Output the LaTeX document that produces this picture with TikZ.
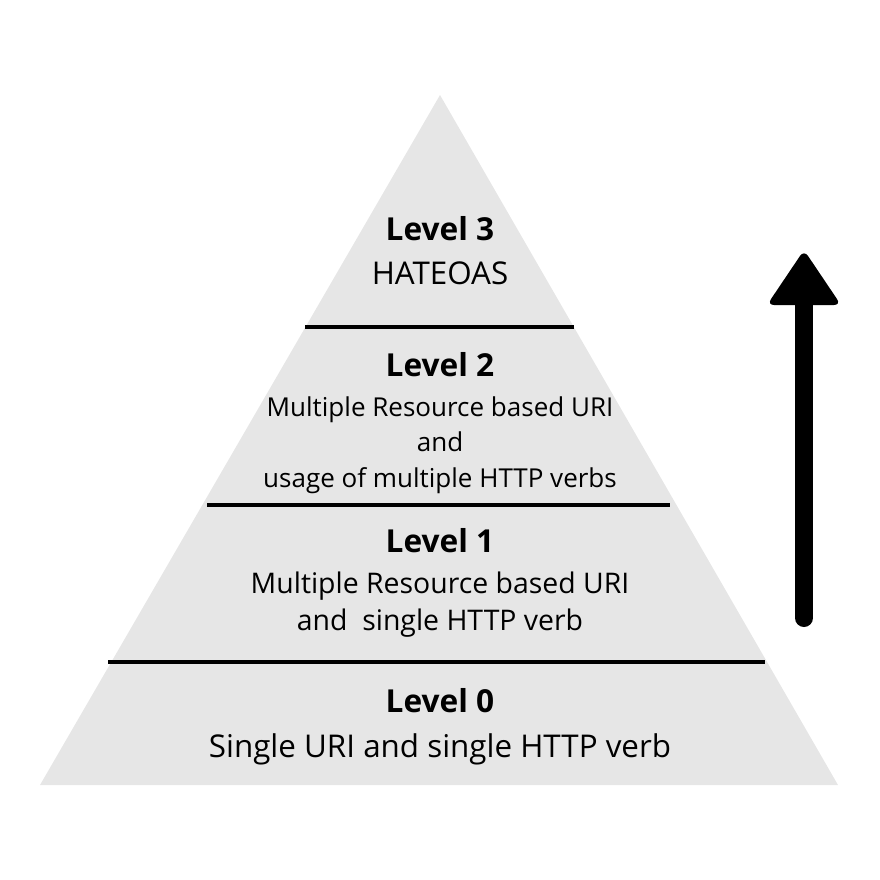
\documentclass[tikz,border=0pt]{standalone}
\usepackage{fontspec}
\setmainfont{Open Sans}
\usetikzlibrary{positioning}
\definecolor{pyrgray}{HTML}{E6E6E6}

\begin{document}
\begin{tikzpicture}[
		x=0.025cm, y=-0.025cm,
		layer/.style={line width=2.8pt, black},
		lvlhead/.style={font=\fontsize{22.5}{26}\selectfont\bfseries, anchor=base, inner sep=0pt},
		lvlbody/.style={font=\fontsize{#1}{#1}\selectfont, anchor=base, inner sep=0pt},
		lvlbody/.default=22.3
		]
		
		\useasboundingbox (0,0) rectangle (880,880);
		
		% ==========================================
		% The pyramid and its layers
		% ==========================================
		\fill[pyrgray] (440,95) -- (838,785) -- (40,785) -- cycle;
		\draw[layer] (305,327) -- (574,327);
		\draw[layer] (207,505) -- (670,505);
		\draw[layer] (108,662) -- (765,662);
		
		% ==========================================
		% Level 3
		% ==========================================
		\node[lvlhead] (head3) at (440,240) {Level 3};
		\node[lvlbody] (body3) at (440,284) {HATEOAS};
		
		% ==========================================
		% Level 2
		% ==========================================
		\node[lvlhead] (head2) at (440,376) {Level 2};
		\node[lvlbody=18.5] (body2a) at (440,416) {Multiple Resource based URI};
		\node[lvlbody=18.5] (body2b) at (440,451) {and};
		\node[lvlbody=18.5] (body2c) at (440,487) {usage of multiple HTTP verbs};
		
		% ==========================================
		% Level 1
		% ==========================================
		\node[lvlhead] (head1) at (440,552) {Level 1};
		\node[lvlbody=20.2] (body1a) at (440,593) {Multiple Resource based URI};
		\node[lvlbody=20.2] (body1b) at (440,630) {and \ single HTTP verb};
		
		% ==========================================
		% Level 0
		% ==========================================
		\node[lvlhead] (head0) at (440,712) {Level 0};
		\node[lvlbody] (body0) at (440,757) {Single URI and single HTTP verb};
		
		% Maturity arrow
		\coordinate (arrowfoot) at (804,618);
		\coordinate (arrowneck) at (804,300);
		\draw[line width=12.8pt, line cap=round] (arrowfoot) -- (arrowneck);
		\fill[rounded corners=5pt] (804,250) -- (841,305) -- (767,305) -- cycle;
		
	\end{tikzpicture}
\end{document}
